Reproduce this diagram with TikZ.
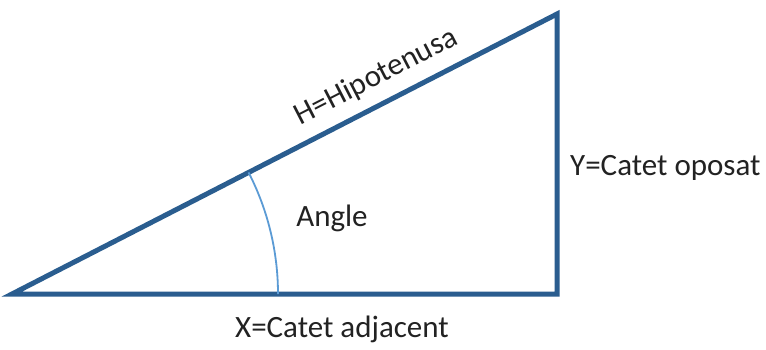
\documentclass[tikz,border=0pt]{standalone}
\usepackage{fontspec}
\setmainfont{Carlito}
\definecolor{tri}{HTML}{2A5D8F}
\definecolor{arcc}{HTML}{5B9BD5}
\definecolor{txt}{HTML}{222222}
\begin{document}
\begin{tikzpicture}[x=1pt,y=-1pt,
  edge/.style={draw=tri,line width=5pt,line join=miter},
  lbl/.style={text=txt,font=\fontsize{31}{36}\selectfont,inner sep=0pt}]
\useasboundingbox[fill=white] (0,0) rectangle (766,349);
\coordinate (A) at (12,294);
\coordinate (B) at (557,294);
\coordinate (C) at (557,14);
\draw[edge] (A) -- (B) -- (C) -- cycle;
\draw[draw=arcc,line width=1.8pt] (278,294) arc[start angle=0,end angle=-27.2,radius=266];
\node[lbl,rotate=27.2] (h) at (376,77) {H=Hipotenusa};
\node[lbl] (ang) at (332,218) {Angle};
\node[lbl,anchor=west] (y) at (570,168) {Y=Catet oposat};
\node[lbl] (x) at (342,329) {X=Catet adjacent};
\end{tikzpicture}
\end{document}
